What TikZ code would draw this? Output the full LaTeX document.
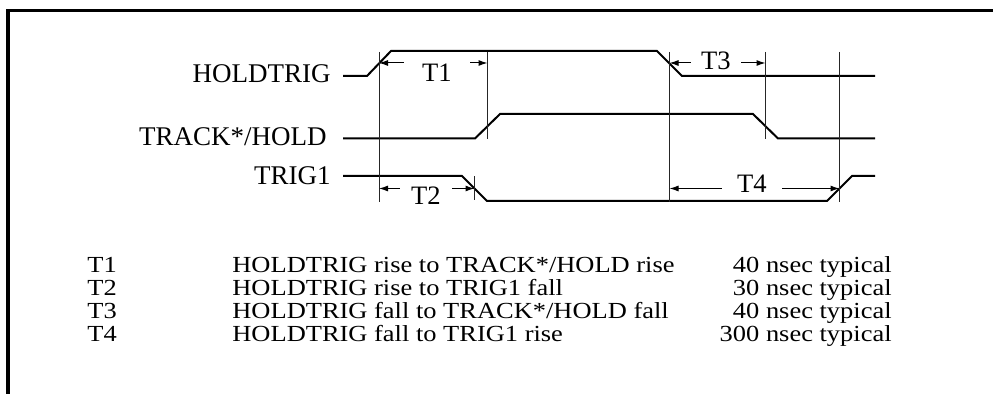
\documentclass[tikz,border=0pt]{standalone}
\usepackage{fontspec}
\setmainfont{Liberation Serif}
\newfontfamily\tablefont{Liberation Serif}[FakeStretch=1.15]
\usetikzlibrary{arrows.meta,positioning,calc}
\tikzset{
  myframe/.style = {line width=1.5pt},
  mysignal/.style = {line width=1pt},
  myguide/.style = {line width=0.5pt, black!85},
  mydim/.style = {-{Latex[length=4.5pt,width=3pt]}, line width=0.5pt},
  myname/.style = {anchor=east, inner sep=0pt, font=\fontsize{13.5}{16}\selectfont},
  mytime/.style = {inner ysep=0pt, font=\fontsize{13.3}{16}\selectfont},
  myrow/.style = {anchor=base west, inner sep=0pt, font=\tablefont\fontsize{11.5}{14}\selectfont},
}
\begin{document}
\begin{tikzpicture}[x=0.5pt, y=-0.5pt]
\useasboundingbox (0,0) rectangle (993,394);
% frame
\draw[myframe] (8,394) -- (8,11) -- (993,11);

% signal names
\node (holdtrig) [myname] at (331,74) {HOLDTRIG};
\node (track) [myname] at (327,137) {TRACK*/HOLD};
\node (trig) [myname] at (331,176) {TRIG1};

% waveforms
\draw[mysignal] (343,76) -- (367,76) -- coordinate (hr) (391,51) -- (657,51) -- coordinate (hf) (682,76) -- (875,76);
\draw[mysignal] (343,138.5) -- (475,138.5) -- coordinate (tr) (500,114) -- (753,114) -- coordinate (tf) (778,138.5) -- (875,138.5);
\draw[mysignal] (343,176) -- (462,176) -- coordinate (gf) (487,201) -- (827,201) -- coordinate (gr) (852,176) -- (875,176);

% guide lines
\coordinate (topend) at (0,52);
\coordinate (midend) at (0,139);
\coordinate (lowend) at (0,202);
\foreach \e/\b in {hr/lowend, tr/midend, hf/lowend, tf/midend, gr/lowend}{
  \draw[myguide] (\e |- topend) -- (\e |- \b);
}
\draw[myguide] ($(gf)+(0,-12)$) -- ($(gf)+(0,12)$);

% timing arrows
\coordinate (upper) at (0,63);
\coordinate (lower) at (0,188.5);
\foreach \t/\x/\y/\g/\a/\b/\l in {T1/437/73/9pt/hr/tr/upper, T2/426/196/5.5pt/hr/gf/lower,
    T3/716/61/5pt/hf/tf/upper, T4/752/184/7.5pt/hf/gr/lower}{
  \node (\t) [mytime, inner xsep=\g] at (\x,\y) {\t};
  \draw[mydim] (\t.west |- \l) -- (\a |- \l);
  \draw[mydim] (\t.east |- \l) -- (\b |- \l);
}

% table
\foreach \t/\d/\v [count=\i from 0] in {T1/{HOLDTRIG rise to TRACK*/HOLD rise}/40,
    T2/{HOLDTRIG rise to TRIG1 fall}/30, T3/{HOLDTRIG fall to TRACK*/HOLD fall}/40,
    T4/{HOLDTRIG fall to TRIG1 rise}/300}{
  \node (row\i) [myrow] at (87,273+23*\i) {\t};
  \node (desc\i) [myrow] at (232,273+23*\i) {\d};
  \node (val\i) [myrow, anchor=base east] at (892,273+23*\i) {\v~nsec typical};
}
\end{tikzpicture}
\end{document}
